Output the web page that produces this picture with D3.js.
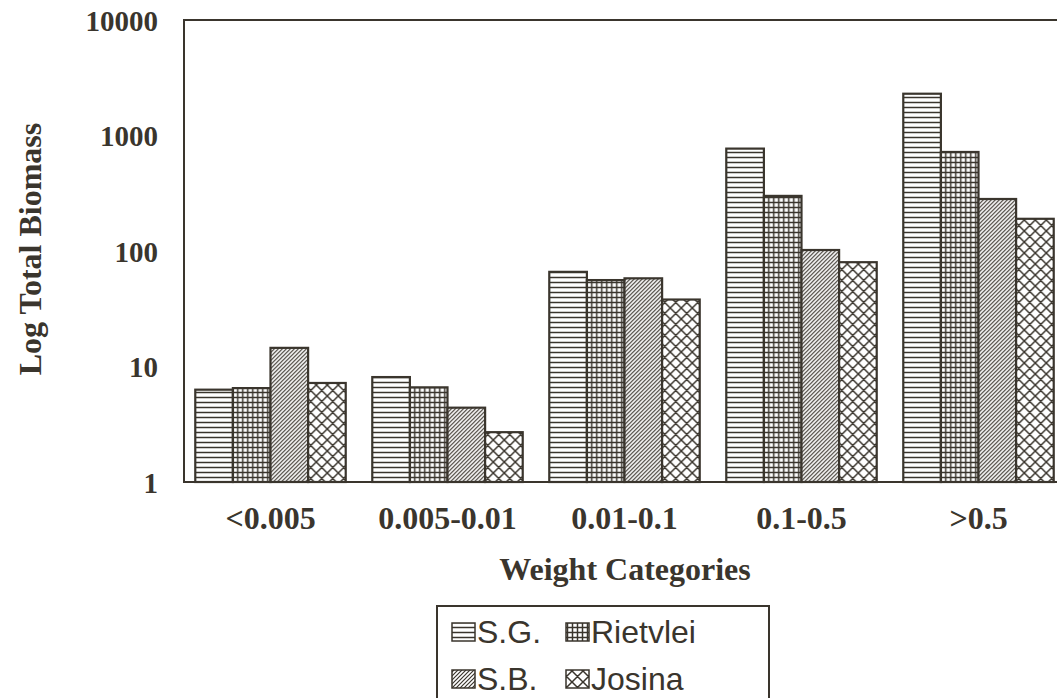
<!DOCTYPE html>
<html>
<head>
<meta charset="utf-8">
<script src="https://cdn.jsdelivr.net/npm/d3@7"></script>
<style>
  html, body { margin: 0; padding: 0; background: #fff; }
  svg { display: block; }
</style>
</head>
<body>
<svg id="chart" width="1057" height="698"></svg>
<script>
const categories = ["<0.005", "0.005-0.01", "0.01-0.1", "0.1-0.5", ">0.5"];
const seriesNames = ["S.G.", "Rietvlei", "S.B.", "Josina"];
const sgValues = [6.3, 8.1, 66, 770, 2300];
const rietvleiValues = [6.5, 6.6, 56, 300, 720];
const sbValues = [14.5, 4.4, 58, 102, 282];
const josinaValues = [7.2, 2.7, 38, 80, 190];
const yTickValues = [1, 10, 100, 1000, 10000];

const seriesValues = [sgValues, rietvleiValues, sbValues, josinaValues];
const patternIds = ["pat-sg", "pat-riet", "pat-sb", "pat-jos"];

const ink = "#3a352d";
const serif = "Liberation Serif, Times New Roman, serif";
const svg = d3.select("#chart");

const plot = { left: 184, top: 20, bottom: 482, right: 1067 };

const x = d3.scaleBand().domain(categories).range([182, 1067]).paddingInner(0.15).paddingOuter(0.075);
const xs = d3.scaleBand().domain(seriesNames).range([0, x.bandwidth()]);
const y = d3.scaleLog().domain([1, 10000]).range([plot.bottom, plot.top]);

// patterns
const defs = svg.append("defs");
let p = defs.append("pattern").attr("id", "pat-sg").attr("patternUnits", "userSpaceOnUse").attr("width", 8).attr("height", 5);
p.append("rect").attr("width", 8).attr("height", 5).attr("fill", "#fff");
p.append("line").attr("x1", 0).attr("x2", 8).attr("y1", 2.5).attr("y2", 2.5).attr("stroke", ink).attr("stroke-width", 1.5);
p = defs.append("pattern").attr("id", "pat-riet").attr("patternUnits", "userSpaceOnUse").attr("width", 5).attr("height", 5);
p.append("rect").attr("width", 5).attr("height", 5).attr("fill", "#fff");
p.append("line").attr("x1", 0).attr("x2", 5).attr("y1", 2.5).attr("y2", 2.5).attr("stroke", ink).attr("stroke-width", 1.5);
p.append("line").attr("y1", 0).attr("y2", 5).attr("x1", 2.5).attr("x2", 2.5).attr("stroke", ink).attr("stroke-width", 1.5);
p = defs.append("pattern").attr("id", "pat-sb").attr("patternUnits", "userSpaceOnUse").attr("width", 4).attr("height", 4);
p.append("rect").attr("width", 4).attr("height", 4).attr("fill", "#fff");
p.append("path").attr("d", "M-1,1 L1,-1 M0,4 L4,0 M3,5 L5,3").attr("stroke", ink).attr("stroke-width", 1.2);
p = defs.append("pattern").attr("id", "pat-jos").attr("patternUnits", "userSpaceOnUse").attr("width", 11).attr("height", 11);
p.append("rect").attr("width", 11).attr("height", 11).attr("fill", "#fff");
p.append("path").attr("d", "M0,0 L11,11 M11,0 L0,11 M-1,10 L1,12 M10,-1 L12,1 M-1,1 L1,-1 M10,12 L12,10").attr("stroke", ink).attr("stroke-width", 1.5);

// bars
const groups = svg.append("g").selectAll("g").data(categories).join("g")
  .attr("transform", d => `translate(${x(d)},0)`);
groups.selectAll("rect")
  .data((d, i) => seriesNames.map((s, j) => ({ s, j, v: seriesValues[j][i] })))
  .join("rect")
  .attr("x", d => xs(d.s))
  .attr("width", xs.bandwidth())
  .attr("y", d => y(d.v))
  .attr("height", d => plot.bottom - y(d.v))
  .attr("fill", d => `url(#${patternIds[d.j]})`)
  .attr("stroke", ink)
  .attr("stroke-width", 2.2);

// frame
svg.append("path")
  .attr("d", `M${plot.right},${plot.top} L${plot.left},${plot.top} L${plot.left},${plot.bottom} L${plot.right},${plot.bottom}`)
  .attr("fill", "none").attr("stroke", ink).attr("stroke-width", 2);

// y axis labels
const yAxis = d3.axisLeft(y).tickValues(yTickValues).tickFormat(d3.format("d")).tickSize(0).tickPadding(26);
const yg = svg.append("g").attr("transform", `translate(${plot.left},0)`).call(yAxis);
yg.select(".domain").remove();
yg.selectAll("text").attr("font-family", serif)
  .attr("font-weight", "bold").attr("font-size", 29).attr("fill", ink).attr("dy", "0.35em");

// x axis labels
const xAxis = d3.axisBottom(x).tickSize(0).tickPadding(24);
const xg = svg.append("g").attr("transform", `translate(0,${plot.bottom})`).call(xAxis);
xg.select(".domain").remove();
xg.selectAll("text").attr("font-family", serif)
  .attr("font-weight", "bold").attr("font-size", 32).attr("fill", ink);

// titles
svg.append("text").attr("x", 625).attr("y", 580).attr("text-anchor", "middle")
  .attr("font-family", serif).attr("font-weight", "bold")
  .attr("font-size", 32).attr("fill", ink).text("Weight Categories");
svg.append("text").attr("transform", "translate(41,249) rotate(-90)").attr("text-anchor", "middle")
  .attr("font-family", serif).attr("font-weight", "bold")
  .attr("font-size", 32).attr("fill", ink).text("Log Total Biomass");

// legend
const lg = svg.append("g");
lg.append("rect").attr("x", 437).attr("y", 606).attr("width", 332).attr("height", 110)
  .attr("fill", "#fff").attr("stroke", ink).attr("stroke-width", 2);
const legPos = [[452, 623], [566, 623], [452, 670], [566, 670]];
seriesNames.forEach((s, j) => {
  const [lx, ly] = legPos[j];
  lg.append("rect").attr("x", lx).attr("y", ly).attr("width", 23).attr("height", 18)
    .attr("fill", `url(#${patternIds[j]})`).attr("stroke", ink).attr("stroke-width", 1.5);
  lg.append("text").attr("x", lx + 25).attr("y", ly + 20)
    .attr("font-family", "Liberation Sans, Arial, sans-serif").attr("font-size", 32)
    .attr("fill", ink).text(s);
});
</script>
</body>
</html>
